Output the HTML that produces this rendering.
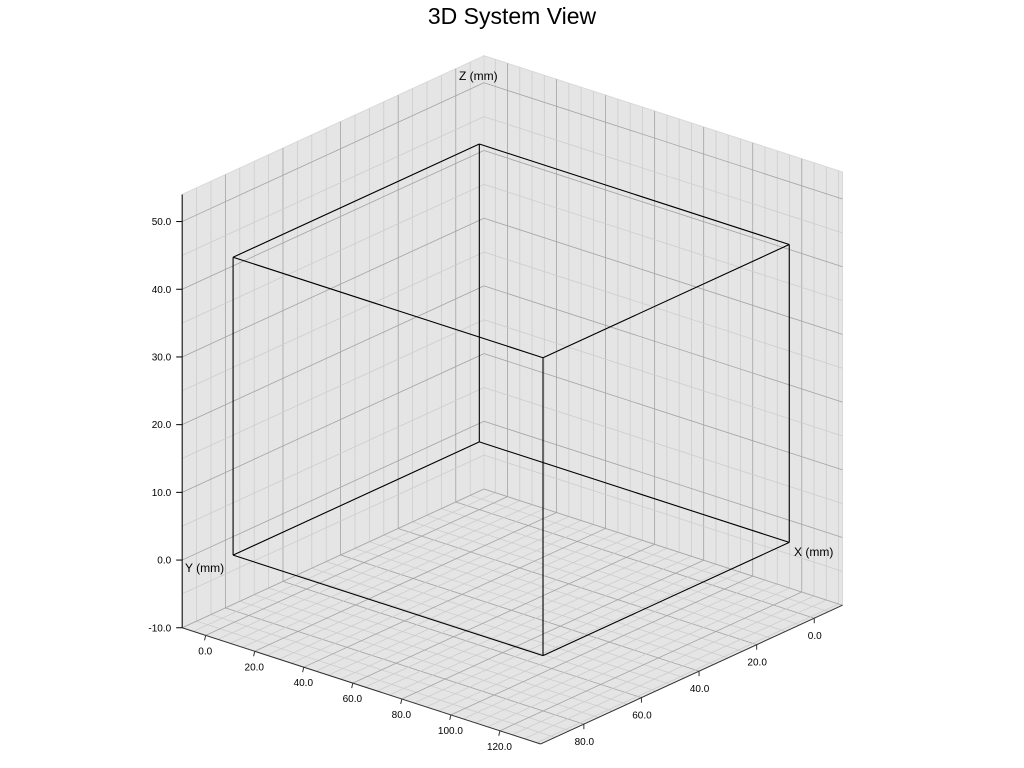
<!DOCTYPE html>
<html><head><meta charset="utf-8"><style>
html,body{margin:0;padding:0;background:#fff;}
svg{display:block;font-family:"Liberation Sans",Arial,sans-serif;}
</style></head><body>
<svg id="chart" width="1024" height="768" viewBox="0 0 1024 768" xmlns="http://www.w3.org/2000/svg">
<text x="512" y="24" text-anchor="middle" font-size="23" fill="#000">3D System View</text>
<g id="panes"></g><g id="grid"></g><g id="box"></g><g id="axes"></g>
</svg>
<script>
const xLim = [-9.8, 95.0];
const yLim = [-9.6, 136.6];
const zLim = [-10, 54];
const xTicks = [0, 20, 40, 60, 80];
const yTicks = [0, 20, 40, 60, 80, 100, 120];
const zTicks = [-10, 0, 10, 20, 30, 40, 50];
const boxMin = [0, 0, 0];
const boxMax = [85.5, 126.4, 44];
const minorStep = [5, 5, 5];
const majorStep = [20, 20, 10];

const NS = 'http://www.w3.org/2000/svg';
const O = [484, 489];
const EX = [-2.88, 1.324], EY = [2.452, 0.795], EZ = [0, -6.77];
function P(x, y, z) {
  const dx = x - xLim[0], dy = y - yLim[0], dz = z - zLim[0];
  return [O[0] + dx*EX[0] + dy*EY[0] + dz*EZ[0], O[1] + dx*EX[1] + dy*EY[1] + dz*EZ[1]];
}
function el(parent, tag, attrs) {
  const e = document.createElementNS(NS, tag);
  for (const k in attrs) e.setAttribute(k, attrs[k]);
  document.getElementById(parent).appendChild(e);
  return e;
}
function line(parent, a, b, stroke, w, name) {
  const e = el(parent, 'line', {x1: a[0].toFixed(2), y1: a[1].toFixed(2), x2: b[0].toFixed(2), y2: b[1].toFixed(2), stroke: stroke, 'stroke-width': w});
  
  
  return e;
}
function poly(pts, name) {
  const e = el('panes', 'polygon', {points: pts.map(p => p[0].toFixed(2) + ',' + p[1].toFixed(2)).join(' '), fill: '#e5e5e5', stroke: '#d9d9d9', 'stroke-width': 1});
  
  
}
const [x0, x1] = xLim, [y0, y1] = yLim, [z0, z1] = zLim;
poly([P(x0,y0,z0), P(x1,y0,z0), P(x1,y1,z0), P(x0,y1,z0)], 'floor-pane');
poly([P(x0,y0,z0), P(x1,y0,z0), P(x1,y0,z1), P(x0,y0,z1)], 'left-wall-pane');
poly([P(x0,y0,z0), P(x0,y1,z0), P(x0,y1,z1), P(x0,y0,z1)], 'right-wall-pane');

function vals(lim, step) {
  const out = [];
  for (let v = Math.ceil(lim[0]/step)*step; v <= lim[1] + 1e-9; v += step) out.push(v);
  return out;
}
function isMajor(v, s) { return Math.abs(v/s - Math.round(v/s)) < 1e-6; }
function gcol(v, i) { return isMajor(v, majorStep[i]) ? '#a3a3a3' : '#cdcdcd'; }
vals(xLim, minorStep[0]).forEach(v => {
  line('grid', P(v,y0,z0), P(v,y1,z0), gcol(v,0), 0.8, 'floor-grid-x');
  line('grid', P(v,y0,z0), P(v,y0,z1), gcol(v,0), 0.8, 'wall-grid-x');
});
vals(yLim, minorStep[1]).forEach(v => {
  line('grid', P(x0,v,z0), P(x1,v,z0), gcol(v,1), 0.8, 'floor-grid-y');
  line('grid', P(x0,v,z0), P(x0,v,z1), gcol(v,1), 0.8, 'wall-grid-y');
});
vals(zLim, minorStep[2]).forEach(v => {
  line('grid', P(x0,y0,v), P(x1,y0,v), gcol(v,2), 0.8, 'left-wall-grid-z');
  line('grid', P(x0,y0,v), P(x0,y1,v), gcol(v,2), 0.8, 'right-wall-grid-z');
});

const bx = [boxMin[0], boxMax[0]], by = [boxMin[1], boxMax[1]], bz = [boxMin[2], boxMax[2]];
for (let i = 0; i < 2; i++) for (let j = 0; j < 2; j++) {
  line('box', P(bx[0],by[i],bz[j]), P(bx[1],by[i],bz[j]), '#000', 1.1, 'box-edge-x');
  line('box', P(bx[i],by[0],bz[j]), P(bx[i],by[1],bz[j]), '#000', 1.1, 'box-edge-y');
  line('box', P(bx[i],by[j],bz[0]), P(bx[i],by[j],bz[1]), '#000', 1.1, 'box-edge-z');
}

line('axes', P(x1,y0,z0), P(x1,y1,z0), '#333', 1, 'y-axis-line');
line('axes', P(x0,y1,z0), P(x1,y1,z0), '#333', 1, 'x-axis-line');
line('axes', P(x1,y0,z0), P(x1,y0,z1), '#000', 1, 'z-axis-line');
function txt(p, s, size, anchor, name) {
  const t = el('axes', 'text', {x: p[0].toFixed(2), y: p[1].toFixed(2), 'font-size': size, 'text-anchor': anchor, fill: '#000'});
  t.textContent = s;
  
  
}
yTicks.forEach(v => {
  const p = P(x1, v, z0);
  line('axes', [p[0], p[1]], [p[0] - 1.2, p[1] + 5], '#333', 1, 'y-tick');
  txt([p[0] - 0.5, p[1] + 19], v.toFixed(1), 10, 'middle', 'y-tick-label');
});
xTicks.forEach(v => {
  const p = P(v, y1, z0);
  line('axes', [p[0], p[1]], [p[0], p[1] + 5], '#333', 1, 'x-tick');
  txt([p[0] + 0.5, p[1] + 21], v.toFixed(1), 10, 'middle', 'x-tick-label');
});
zTicks.forEach(v => {
  const p = P(x1, y0, v);
  line('axes', [p[0], p[1]], [p[0] - 6, p[1]], '#000', 1, 'z-tick');
  txt([p[0] - 11, p[1] + 3.5], v.toFixed(1), 10, 'end', 'z-tick-label');
});
txt([459, 80], 'Z (mm)', 12, 'start', 'z-axis-title');
txt([185, 572], 'Y (mm)', 12, 'start', 'y-axis-title');
txt([794, 556], 'X (mm)', 12, 'start', 'x-axis-title');
</script>
</body></html>
